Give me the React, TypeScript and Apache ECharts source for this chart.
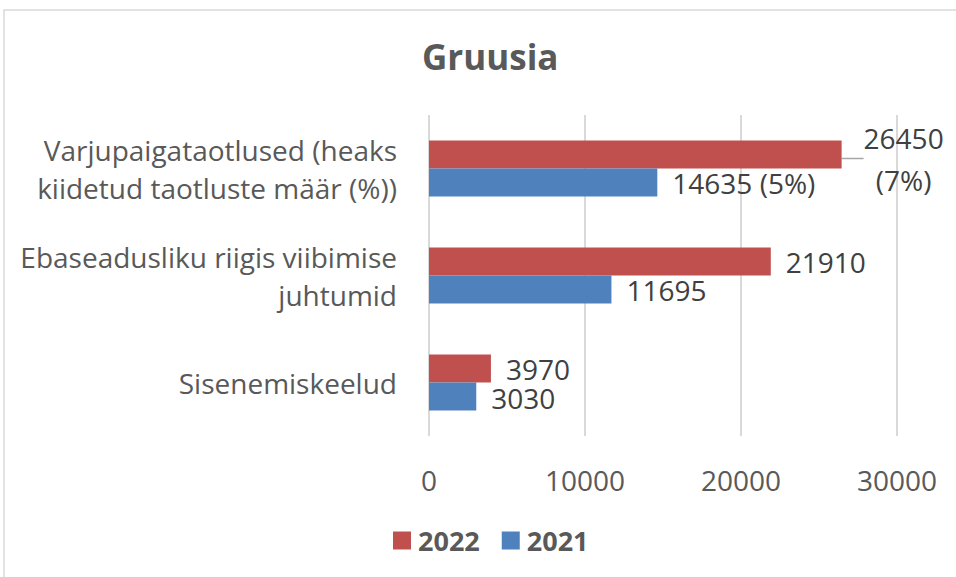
import React, { useEffect, useRef } from "react";
import * as echarts from "echarts";

const categories = [
  "Varjupaigataotlused (heaks\nkiidetud taotluste määr (%))",
  "Ebaseadusliku riigis viibimise\njuhtumid",
  "Sisenemiskeelud",
];
const seriesNames = ["2022", "2021"];
const values2022 = [26450, 21910, 3970];
const values2021 = [14635, 11695, 3030];
const labels2022 = ["26450\n(7%)", "21910", "3970"];
const labels2021 = ["14635 (5%)", "11695", "3030"];
const xTicks = { min: 0, max: 30000, interval: 10000 };

const FONT = "'Open Sans', 'Noto Sans', sans-serif";
const RED = "#C0504D";
const BLUE = "#4F81BD";

export default function App() {
  const ref = useRef<HTMLDivElement>(null);
  useEffect(() => {
    if (!ref.current) return;
    const chart = echarts.init(ref.current, null, { renderer: "svg" });
    const labelStyle = {
      show: true,
      position: "right",
      distance: 15,
      fontFamily: FONT,
      fontSize: 28,
      lineHeight: 26,
      color: "#404040",
    };
    chart.setOption({
      animation: false,
      backgroundColor: "#ffffff",
      graphic: [
        {
          type: "rect",
          shape: { x: 4, y: 10, width: 1000, height: 700 },
          style: { fill: "none", stroke: "#D9D9D9", lineWidth: 1.5 },
          silent: true,
        },
      ],
      title: {
        text: "Gruusia",
        left: 417,
        top: 34,
        textStyle: { fontFamily: FONT, fontSize: 35, fontWeight: "bold", color: "#595959" },
      },
      legend: {
        data: seriesNames,
        left: 388,
        top: 522,
        icon: "rect",
        itemWidth: 18,
        itemHeight: 18,
        itemGap: 22,
        textStyle: { fontFamily: FONT, fontSize: 27, fontWeight: "bold", color: "#595959", padding: [0, 0, 0, 2] },
      },
      grid: { left: 429, right: 59, top: 115, bottom: 141, containLabel: false },
      xAxis: {
        type: "value",
        min: xTicks.min,
        max: xTicks.max,
        interval: xTicks.interval,
        axisLine: { show: false },
        axisTick: { show: false },
        splitLine: { show: true, lineStyle: { color: "#D9D9D9", width: 2 } },
        axisLabel: {
          margin: 30,
          fontFamily: FONT,
          fontSize: 28,
          color: "#595959",
          formatter: (v: number) => String(v),
        },
      },
      yAxis: {
        type: "category",
        data: categories,
        inverse: true,
        axisLine: { show: false },
        axisTick: { show: false },
        axisLabel: { margin: 32, fontFamily: FONT, fontSize: 28, color: "#595959", lineHeight: 38, align: "right" },
      },
      series: [
        {
          name: seriesNames[0],
          type: "bar",
          data: values2022.map((v, i) =>
            i === 0
              ? {
                  value: v,
                  label: { ...labelStyle, align: "center", lineHeight: 42, formatter: labels2022[i] },
                  labelLine: { show: true, lineStyle: { color: "#A6A6A6", width: 1.5 } },
                }
              : {
                  value: v,
                  label: { ...labelStyle, offset: [0, i === 2 ? -1.5 : 0], formatter: labels2022[i] },
                }
          ),
          itemStyle: { color: RED },
          barWidth: 28,
          barGap: "0%",
          barCategoryGap: "48%",
          labelLayout: (p: any) => (p.dataIndex === 0 ? { dx: 47, dy: 4 } : {}),
        },
        {
          name: seriesNames[1],
          type: "bar",
          data: values2021.map((v, i) => ({
            value: v,
            label: { ...labelStyle, offset: [0, i === 2 ? 1.5 : 0], formatter: labels2021[i] },
          })),
          itemStyle: { color: BLUE },
          barWidth: 28,
          barGap: "0%",
          barCategoryGap: "48%",
        },
      ],
    });
    return () => chart.dispose();
  }, []);
  return (
    <div
      ref={ref}
      style={{ position: "absolute", left: 0, top: 0, width: 956, height: 577 }}
    />
  );
}
